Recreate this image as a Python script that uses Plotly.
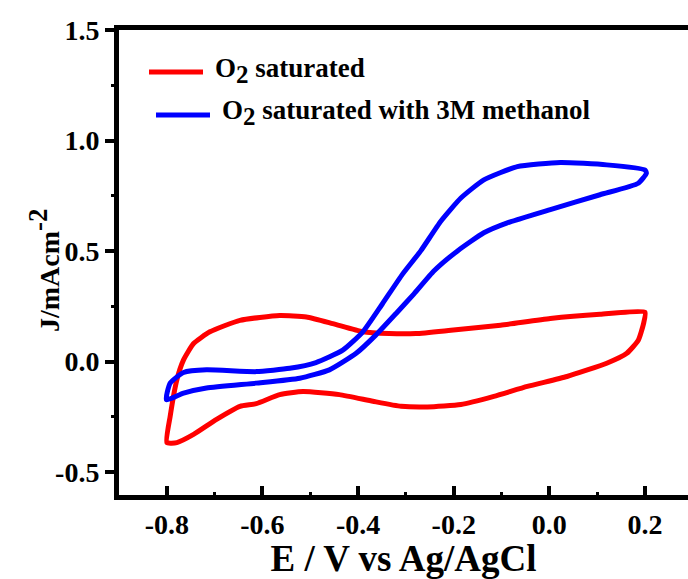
import plotly.graph_objects as go

# O2 saturated (red) closed CV loop
red_E = [-0.800, -0.793, -0.779, -0.765, -0.744, -0.710, -0.647, -0.564, -0.508, -0.453,
         -0.390, -0.335, -0.279, -0.206, -0.102, 0.002, 0.106, 0.200,
         0.197, 0.186, 0.162, 0.120, 0.037, -0.046, -0.116, -0.185, -0.255,
         -0.310, -0.369, -0.439, -0.515, -0.564, -0.613, -0.647, -0.696, -0.744, -0.779, -0.800]
red_J = [-0.366, -0.247, -0.082, 0.008, 0.082, 0.135, 0.187, 0.209, 0.202, 0.172,
         0.135, 0.127, 0.127, 0.142, 0.165, 0.195, 0.214, 0.224,
         0.172, 0.097, 0.038, -0.007, -0.067, -0.112, -0.157, -0.194, -0.205,
         -0.202, -0.179, -0.149, -0.135, -0.149, -0.190, -0.202, -0.261, -0.329, -0.366, -0.366]

# O2 saturated with 3M methanol (blue) closed CV loop
blue_E = [-0.801, -0.793, -0.765, -0.717, -0.613, -0.543, -0.488, -0.432, -0.390, -0.349,
          -0.307, -0.269, -0.227, -0.185, -0.137, -0.067, 0.023, 0.120, 0.200, 0.203,
          0.186, 0.106, 0.002, -0.088, -0.137, -0.192, -0.241, -0.283, -0.321, -0.363,
          -0.404, -0.460, -0.522, -0.613, -0.717, -0.765, -0.801]
blue_J = [-0.172, -0.097, -0.049, -0.037, -0.045, -0.030, -0.004, 0.052, 0.135, 0.262,
          0.396, 0.501, 0.635, 0.740, 0.822, 0.882, 0.901, 0.890, 0.867, 0.852,
          0.807, 0.755, 0.688, 0.628, 0.583, 0.501, 0.411, 0.307, 0.217, 0.120,
          0.038, -0.037, -0.075, -0.097, -0.119, -0.142, -0.172]

x_ticks = [-0.8, -0.6, -0.4, -0.2, 0.0, 0.2]
x_ticklabels = ["-0.8", "-0.6", "-0.4", "-0.2", "0.0", "0.2"]
y_ticks = [-0.5, 0.0, 0.5, 1.0, 1.5]
y_ticklabels = ["-0.5", "0.0", "0.5", "1.0", "1.5"]

SUB2 = "O<sub><span style='font-size:25px'>2</span></sub>"
series_names = [SUB2 + " saturated", SUB2 + " saturated with 3M methanol"]
series_colors = ["#ff0000", "#0000ff"]

FONT = "Liberation Serif"

fig = go.Figure()
fig.add_trace(go.Scatter(x=red_E, y=red_J, mode="lines", name=series_names[0],
                         line=dict(color=series_colors[0], width=5, shape="spline", smoothing=0.5),
                         showlegend=False))
fig.add_trace(go.Scatter(x=blue_E, y=blue_J, mode="lines", name=series_names[1],
                         line=dict(color=series_colors[1], width=5, shape="spline", smoothing=0.5),
                         showlegend=False))

# legend drawn manually (line sample + text), positions in pixels of the plot area
PL, PW, PB, PH = 119, 569, 495, 465
legend_rows = [(149, 203, 72), (156, 210, 115)]
for i, name in enumerate(series_names):
    x0px, x1px, ypx = legend_rows[i]
    fig.add_shape(type="line", xref="paper", yref="paper",
                  x0=(x0px - PL) / PW, x1=(x1px - PL) / PW,
                  y0=(PB - ypx) / PH, y1=(PB - ypx) / PH,
                  line=dict(color=series_colors[i], width=5))
    fig.add_annotation(xref="paper", yref="paper",
                       x=(x1px + 10 - PL) / PW, y=(PB - ypx + 2) / PH,
                       xanchor="left", yanchor="middle", showarrow=False,
                       text="<b>" + name + "</b>",
                       font=dict(family=FONT, size=27, color="black"))

# y-axis title placed as rotated text
fig.add_annotation(xref="paper", yref="paper",
                   x=(44 - PL) / PW, y=(PB - 270) / PH,
                   xanchor="center", yanchor="middle", showarrow=False, textangle=-90,
                   text="<b>J/mAcm<sup><span style='font-size:27px'>-2</span></sup></b>",
                   font=dict(family=FONT, size=28, color="black"))

fig.update_layout(
    width=688, height=579,
    margin=dict(l=119, r=0, t=30, b=84),
    paper_bgcolor="white", plot_bgcolor="white",
    font=dict(family=FONT, color="black"),
    xaxis=dict(
        range=[-0.9, 0.29], tickvals=x_ticks, ticktext=["<b>%s</b>" % t for t in x_ticklabels],
        ticks="inside", ticklen=9, tickwidth=4, tickcolor="black",
        showline=True, linewidth=5, linecolor="black", mirror=True,
        showgrid=False, zeroline=False,
        tickfont=dict(family=FONT, size=28, color="black"),
        minor=dict(dtick=0.1, tick0=-0.9, ticks="inside", ticklen=3, tickwidth=3, tickcolor="black"),
        title=dict(text="<b>E / V vs Ag/AgCl</b>", font=dict(family=FONT, size=37, color="black"), standoff=4),
    ),
    yaxis=dict(
        range=[-0.603, 1.5], tickvals=y_ticks, ticktext=["<b>%s</b>" % t for t in y_ticklabels],
        ticks="outside", ticklen=9, tickwidth=4, tickcolor="black",
        showline=True, linewidth=5, linecolor="black",
        showgrid=False, zeroline=False,
        tickfont=dict(family=FONT, size=28, color="black"),
        minor=dict(tickvals=[-0.25, 0.25, 0.75, 1.25], ticks="outside", ticklen=3, tickwidth=3, tickcolor="black"),
    ),
)

fig.write_html("out.html")
